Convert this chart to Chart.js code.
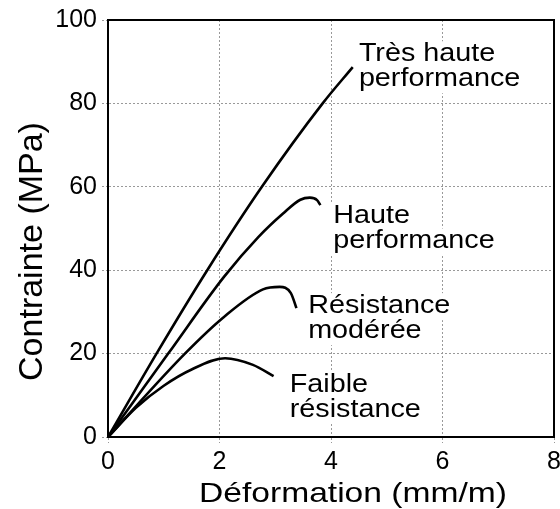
<!DOCTYPE html>
<html lang="fr">
<head>
<meta charset="utf-8">
<title>Contrainte - déformation</title>
<script src="https://cdn.jsdelivr.net/npm/chart.js@4/dist/chart.umd.min.js"></script>
<style>
  html, body { margin: 0; padding: 0; background: #fff; }
  #wrap { width: 560px; height: 509px; }
</style>
</head>
<body>
<div id="wrap"><canvas id="courbes" width="560" height="509"></canvas></div>
<script>
// Données (déformation en mm/m, contrainte en MPa)
const tresHauteX = [0, 0.87, 1.78, 2.76, 3.85, 4.39];
const tresHauteY = [0, 20, 40, 60, 80, 88.7];

const hauteX = [0, 1.08, 2.08, 2.7, 3.14, 3.45, 3.62, 3.75, 3.81];
const hauteY = [0, 20, 38.4, 48, 53.6, 56.9, 57.4, 56.8, 55.6];

const moderéeX = [0, 1.38, 2.08, 2.78, 3.08, 3.28, 3.38];
const moderéeY = [0, 20, 28.8, 35.4, 36, 34.5, 30.9];

const faibleX = [0, 0.5, 1.0, 1.5, 2.1, 2.6, 2.97];
const faibleY = [0, 7.0, 12.3, 16.2, 18.9, 17.3, 14.6];

const ticksX = [0, 2, 4, 6, 8];
const ticksY = [0, 20, 40, 60, 80, 100];

// Étiquettes des courbes (coin gauche de la première ligne, en coordonnées des axes)
const etiquettes = [
    { lignes: ['Très haute', 'performance'], x: 4.50, y: 90.1 },
    { lignes: ['Haute', 'performance'], x: 4.04, y: 51.2 },
    { lignes: ['Résistance', 'modérée'], x: 3.59, y: 29.7 },
    { lignes: ['Faible', 'résistance'], x: 3.26, y: 10.8 }
];

const POLICE = '"Liberation Sans", Arial, Helvetica, sans-serif';

function points(xs, ys) {
    return xs.map((x, i) => ({ x: x, y: ys[i] }));
}

function serie(label, xs, ys) {
    return {
        label: label,
        data: points(xs, ys),
        borderColor: '#000',
        borderWidth: 2.6,
        pointRadius: 0,
        showLine: true,
        fill: false,
        cubicInterpolationMode: 'monotone'
    };
}

// Textes dessinés à la main : étiquettes, titres des axes et cadre
const textesPlugin = {
    id: 'textes',
    beforeDatasetsDraw(chart) {
        const ctx = chart.ctx;
        const sx = chart.scales.x, sy = chart.scales.y;
        ctx.save();
        ctx.font = '25px ' + POLICE;
        ctx.textBaseline = 'alphabetic';
        ctx.textAlign = 'left';
        etiquettes.forEach(et => {
            const px = sx.getPixelForValue(et.x);
            const py = sy.getPixelForValue(et.y);
            et.lignes.forEach((txt, i) => {
                ctx.save();
                ctx.translate(px, py + i * 25);
                ctx.scale(1.15, 1);
                const w = ctx.measureText(txt).width;
                ctx.fillStyle = '#fff';
                ctx.fillRect(-2, -20, w + 4, 27);
                ctx.fillStyle = '#000';
                ctx.fillText(txt, 0, 0);
                ctx.restore();
            });
        });
        ctx.restore();
    },
    afterDraw(chart) {
        const ctx = chart.ctx;
        const a = chart.chartArea;
        ctx.save();
        ctx.setLineDash([]);
        ctx.strokeStyle = '#000';
        ctx.lineWidth = 2;
        ctx.strokeRect(a.left, a.top, a.right - a.left, a.bottom - a.top);

        ctx.fillStyle = '#000';
        ctx.textAlign = 'center';
        ctx.textBaseline = 'alphabetic';

        // titre axe X
        ctx.save();
        ctx.font = '28px ' + POLICE;
        ctx.translate(353, 502);
        ctx.scale(1.2, 1);
        ctx.fillText('Déformation (mm/m)', 0, 0);
        ctx.restore();

        // titre axe Y
        ctx.save();
        ctx.font = '34px ' + POLICE;
        ctx.translate(42, 251.5);
        ctx.rotate(-Math.PI / 2);
        ctx.fillText('Contrainte (MPa)', 0, 0);
        ctx.restore();

        ctx.restore();
    }
};

function grille() {
    return {
        display: true,
        drawOnChartArea: true,
        drawTicks: true,
        color: '#999',
        lineWidth: 1,
        tickBorderDash: [2, 2],
        tickColor: '#999',
        tickWidth: 1,
        tickLength: 6
    };
}

function bordure() {
    return { display: true, color: '#000', width: 2, dash: [2, 2] };
}

function desenharGrafico() {
    const ctx = document.getElementById('courbes').getContext('2d');
    new Chart(ctx, {
        type: 'scatter',
        data: {
            datasets: [
                serie('Très haute performance', tresHauteX, tresHauteY),
                serie('Haute performance', hauteX, hauteY),
                serie('Résistance modérée', moderéeX, moderéeY),
                serie('Faible résistance', faibleX, faibleY)
            ]
        },
        options: {
            responsive: false,
            animation: false,
            devicePixelRatio: 1,
            layout: { padding: { top: 19, right: 6, left: 0, bottom: 0 } },
            plugins: {
                legend: { display: false },
                tooltip: { enabled: false }
            },
            scales: {
                x: {
                    type: 'linear',
                    min: 0,
                    max: 8,
                    afterBuildTicks(scale) { scale.ticks = ticksX.map(v => ({ value: v })); },
                    afterFit(scale) { scale.height = 72; scale.paddingRight = 0; scale.paddingLeft = 0; },
                    grid: grille(),
                    border: bordure(),
                    ticks: { color: '#000', padding: 4, font: { family: POLICE, size: 25 }, maxRotation: 0 }
                },
                y: {
                    type: 'linear',
                    min: 0,
                    max: 100,
                    afterBuildTicks(scale) { scale.ticks = ticksY.map(v => ({ value: v })); },
                    afterFit(scale) { scale.width = 108; },
                    grid: grille(),
                    border: bordure(),
                    ticks: { color: '#000', padding: 5, font: { family: POLICE, size: 25 } }
                }
            }
        },
        plugins: [textesPlugin]
    });
}

document.addEventListener('DOMContentLoaded', () => {
    desenharGrafico();
});
</script>
</body>
</html>
